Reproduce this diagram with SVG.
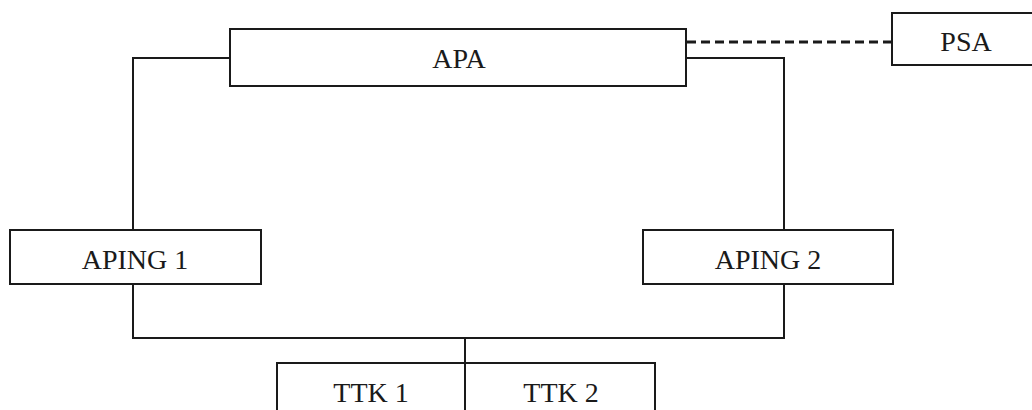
<svg xmlns="http://www.w3.org/2000/svg" width="1032" height="410" viewBox="0 0 1032 410">
<style>
.box{fill:#fff;stroke:#1a1a1a;stroke-width:2}
.lbl{font-family:"Liberation Serif","Times New Roman",serif;font-size:28px;fill:#1a1a1a;text-anchor:middle}
.wire{fill:none;stroke:#1a1a1a;stroke-width:2}
.dash{fill:none;stroke:#1a1a1a;stroke-width:3;stroke-dasharray:9 5}
</style>
<rect width="1032" height="410" fill="#fff"/>
<g id="connectors">
<polyline class="wire" points="230,58 133,58 133,230"/>
<polyline class="wire" points="686,58 784,58 784,230"/>
<polyline class="wire" points="133,284 133,338 784,338 784,284"/>
<line class="wire" x1="465" y1="338" x2="465" y2="363"/>
<line class="dash" x1="687" y1="42" x2="892" y2="42"/>
</g>
<g id="apa"><rect class="box" x="230" y="29" width="456" height="57"/><text class="lbl" x="459" y="68">APA</text></g>
<g id="psa"><rect class="box" x="892" y="13" width="150" height="52"/><text class="lbl" x="966" y="51">PSA</text></g>
<g id="aping1"><rect class="box" x="10" y="230" width="251" height="54"/><text class="lbl" x="135" y="269">APING 1</text></g>
<g id="aping2"><rect class="box" x="643" y="230" width="250" height="54"/><text class="lbl" x="768" y="269">APING 2</text></g>
<g id="ttk1"><rect class="box" x="277" y="363" width="188" height="60"/><text class="lbl" x="371" y="402">TTK 1</text></g>
<g id="ttk2"><rect class="box" x="465" y="363" width="190" height="60"/><text class="lbl" x="561" y="402">TTK 2</text></g>
</svg>
